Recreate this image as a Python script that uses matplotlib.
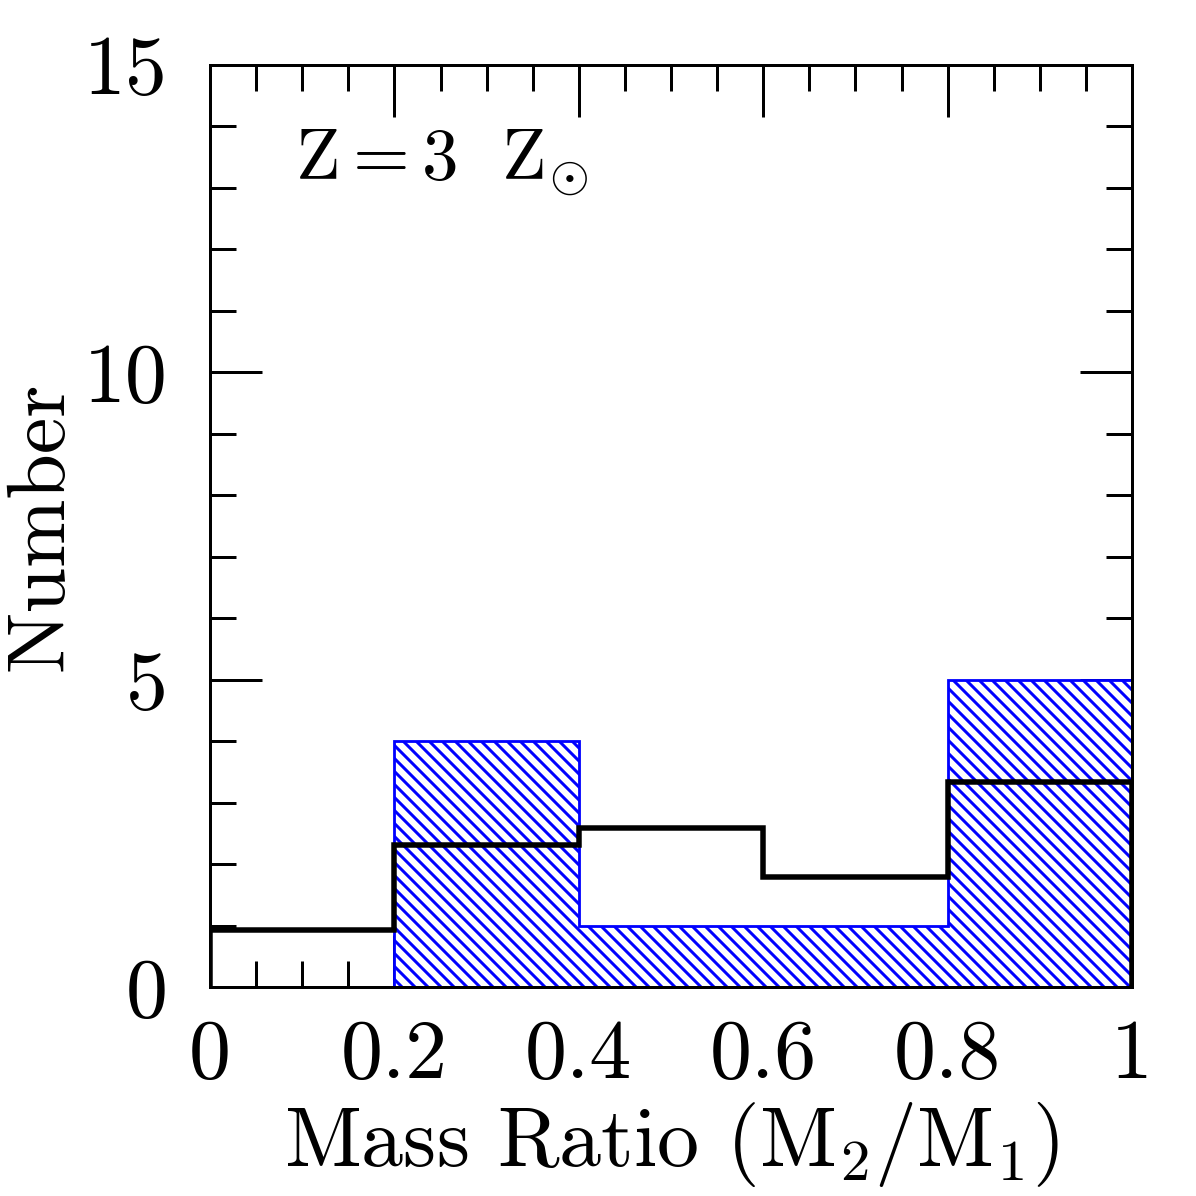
import matplotlib
matplotlib.use("Agg")
import matplotlib.pyplot as plt
from matplotlib.ticker import MultipleLocator, FuncFormatter

# histogram data
bin_edges = [0.0, 0.2, 0.4, 0.6, 0.8, 1.0]
counts_obs = [0, 4, 1, 1, 5]                   # blue hatched histogram
counts_model = [0.93, 2.31, 2.59, 1.79, 3.33]  # black step line

DPI = 117  # hatch spacing follows dpi, so pick it to match the picture
def pt(px):
    return px * 72.0 / DPI

plt.rcParams['font.family'] = 'cmr10'
plt.rcParams['mathtext.fontset'] = 'cm'
plt.rcParams['axes.formatter.use_mathtext'] = True
plt.rcParams['hatch.linewidth'] = pt(3.0)

fig = plt.figure(figsize=(1196 / DPI, 1196 / DPI), dpi=DPI)
ax = fig.add_axes([0.1756, 0.1747, 0.7709, 0.771])

ax.stairs(counts_obs, bin_edges, fill=True, facecolor='white', edgecolor='blue',
          hatch='\\\\\\', linewidth=pt(2.8), zorder=2)
ax.stairs(counts_model, bin_edges, color='black', linewidth=pt(5.5), zorder=3)

ax.set_xlim(0, 1)
ax.set_ylim(0, 15)
ax.xaxis.set_major_locator(MultipleLocator(0.2))
ax.xaxis.set_minor_locator(MultipleLocator(0.05))
ax.yaxis.set_major_locator(MultipleLocator(5))
ax.yaxis.set_minor_locator(MultipleLocator(1))

def fmt(v, pos):
    return ('%.1f' % v).rstrip('0').rstrip('.')
ax.xaxis.set_major_formatter(FuncFormatter(fmt))
ax.yaxis.set_major_formatter(FuncFormatter(fmt))

ax.tick_params(which='both', direction='in', top=True, right=True, width=pt(3))
ax.tick_params(which='major', length=pt(52))
ax.tick_params(which='minor', length=pt(26))
ax.tick_params(axis='x', which='major', pad=pt(32), labelsize=pt(84))
ax.tick_params(axis='y', which='major', pad=pt(42), labelsize=pt(84))
for sp in ax.spines.values():
    sp.set_linewidth(pt(3))
    sp.set_zorder(5)

ax.set_xlabel(r'Mass Ratio (M$_2$/M$_1$)', fontsize=pt(84), labelpad=pt(6))
ax.set_ylabel('Number', fontsize=pt(82))
ax.yaxis.set_label_coords(-0.143, 0.5)

ax.text(0.092, 0.894, r'$\mathrm{Z}=3\ \ \mathrm{Z}_{\odot}$', transform=ax.transAxes,
        fontsize=pt(73), ha='left', va='center')

fig.savefig('out.png', dpi=DPI)
